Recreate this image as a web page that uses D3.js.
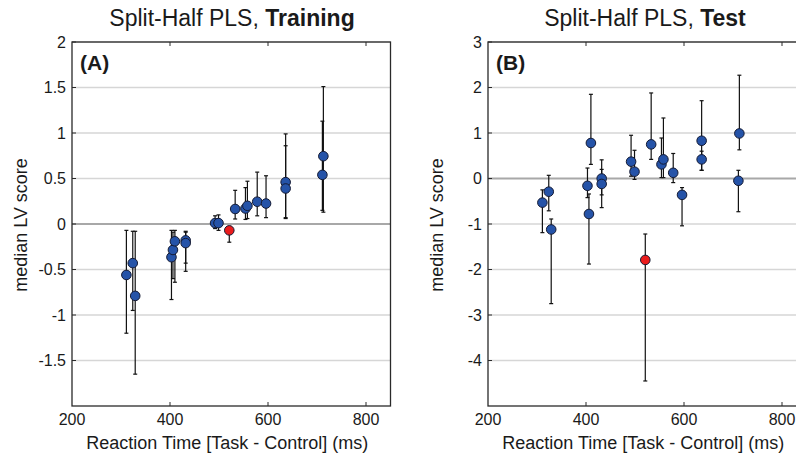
<!DOCTYPE html>
<html>
<head>
<meta charset="utf-8">
<script src="https://cdn.jsdelivr.net/npm/d3@7"></script>
<style>
    body { margin: 0; background: #fff; }
    svg { display: block; font-family: "Liberation Sans", Arial, sans-serif; }
</style>
</head>
<body>
<div id="chart"></div>
<script>
// reaction time difference per subject (ms)
const rt = [311, 324, 329, 403, 406, 410, 432, 432, 492, 499, 521, 533, 554, 558, 578, 596, 636, 636, 711, 713];

// training split: median LV score and interval
const trainMedian = [-0.56, -0.43, -0.79, -0.365, -0.285, -0.19, -0.18, -0.21, 0.01, 0.01, -0.07, 0.165, 0.17, 0.20, 0.245, 0.225, 0.46, 0.39, 0.54, 0.745];
const trainLower = [-1.20, -0.95, -1.65, -0.83, -0.60, -0.64, -0.43, -0.52, -0.05, -0.07, -0.20, 0.055, 0.05, 0.06, 0.09, 0.07, 0.06, 0.07, 0.15, 0.13];
const trainUpper = [-0.07, -0.08, -0.08, -0.07, -0.09, -0.07, -0.08, -0.09, 0.09, 0.10, -0.04, 0.37, 0.40, 0.47, 0.57, 0.53, 0.99, 0.86, 1.13, 1.51];

// test split
const testMedian = [-0.53, -0.29, -1.12, -0.16, -0.78, 0.78, 0.0, -0.12, 0.37, 0.15, -1.79, 0.75, 0.31, 0.42, 0.125, -0.36, 0.83, 0.42, -0.05, 0.99];
const testLower = [-1.19, -0.71, -2.75, -0.42, -1.88, 0.31, -0.36, -0.64, 0.05, -0.02, -4.45, 0.42, 0.02, 0.02, -0.09, -1.04, 0.18, 0.18, -0.73, 0.63];
const testUpper = [-0.25, 0.07, -0.89, 0.23, -0.34, 1.85, 0.41, 0.20, 0.95, 0.62, -1.22, 1.88, 0.89, 1.33, 0.55, -0.20, 1.71, 0.60, 0.18, 2.27];

// the highlighted (red) subject
const outlierIndex = 10;

const xTicks = [200, 400, 600, 800];
const trainTicks = [-1.5, -1, -0.5, 0, 0.5, 1, 1.5, 2];
const testTicks = [-4, -3, -2, -1, 0, 1, 2, 3];

const width = 796;
const height = 458;
const textColor = '#1a1a1a';

const svg = d3
    .select('#chart')
    .append('svg')
    .attr('width', width)
    .attr('height', height);

function drawPanel(opts) {
    const x = d3.scaleLinear().domain([200, 850]).range([opts.left, opts.left + 318.5]);
    const y = d3.scaleLinear().domain(opts.yDomain).range([406, 42]);
    const g = svg.append('g');
    const [x0, x1] = x.range();

    // horizontal grid
    g.selectAll('.grid')
        .data(opts.yTicks)
        .enter()
        .append('line')
        .attr('x1', x0)
        .attr('x2', x1)
        .attr('y1', d => y(d))
        .attr('y2', d => y(d))
        .attr('stroke', d => (d === 0 ? '#a8a8a8' : '#d6d6d6'))
        .attr('stroke-width', d => (d === 0 ? 1.8 : 1.3));

    const data = rt.map((r, i) => ({
        rt: r,
        med: opts.median[i],
        lo: opts.lower[i],
        hi: opts.upper[i],
        red: i === outlierIndex
    }));

    // error bars
    const bars = g.selectAll('.err')
        .data(data)
        .enter()
        .append('g')
        .attr('stroke', '#111')
        .attr('stroke-width', 1.2);
    bars.append('line')
        .attr('x1', d => x(d.rt))
        .attr('x2', d => x(d.rt))
        .attr('y1', d => y(d.lo))
        .attr('y2', d => y(d.hi));
    bars.append('line')
        .attr('x1', d => x(d.rt) - 2)
        .attr('x2', d => x(d.rt) + 2)
        .attr('y1', d => y(d.lo))
        .attr('y2', d => y(d.lo));
    bars.append('line')
        .attr('x1', d => x(d.rt) - 2)
        .attr('x2', d => x(d.rt) + 2)
        .attr('y1', d => y(d.hi))
        .attr('y2', d => y(d.hi));

    // points
    g.selectAll('.pt')
        .data(data)
        .enter()
        .append('circle')
        .attr('cx', d => x(d.rt))
        .attr('cy', d => y(d.med))
        .attr('r', 4.8)
        .attr('fill', d => (d.red ? '#ea1c1c' : '#2553a8'))
        .attr('stroke', '#141a33')
        .attr('stroke-width', 1);

    // frame
    g.append('rect')
        .attr('x', x0)
        .attr('y', 42)
        .attr('width', x1 - x0)
        .attr('height', 364)
        .attr('fill', 'none')
        .attr('stroke', '#2a2a2a')
        .attr('stroke-width', 1.3);

    // inner ticks on top and bottom
    const inner = xTicks.filter(d => d > 200);
    g.selectAll('.tb')
        .data(inner)
        .enter()
        .append('line')
        .attr('x1', d => x(d))
        .attr('x2', d => x(d))
        .attr('y1', 406)
        .attr('y2', 402)
        .attr('stroke', '#2a2a2a');
    g.selectAll('.tt')
        .data(inner)
        .enter()
        .append('line')
        .attr('x1', d => x(d))
        .attr('x2', d => x(d))
        .attr('y1', 42)
        .attr('y2', 46)
        .attr('stroke', '#2a2a2a');
    g.selectAll('.tl')
        .data(opts.yTicks)
        .enter()
        .append('line')
        .attr('x1', x0)
        .attr('x2', x0 + 4)
        .attr('y1', d => y(d))
        .attr('y2', d => y(d))
        .attr('stroke', '#2a2a2a');

    // tick labels
    g.selectAll('.xl')
        .data(xTicks)
        .enter()
        .append('text')
        .attr('x', d => x(d))
        .attr('y', 425)
        .attr('text-anchor', 'middle')
        .attr('font-size', 16)
        .attr('fill', textColor)
        .text(d => d);
    g.selectAll('.yl')
        .data(opts.yTicks)
        .enter()
        .append('text')
        .attr('x', x0 - 6)
        .attr('y', d => y(d))
        .attr('dy', '0.35em')
        .attr('text-anchor', 'end')
        .attr('font-size', 16)
        .attr('fill', textColor)
        .text(d => d);

    // axis titles
    g.append('text')
        .attr('x', (x0 + x1) / 2 - 4)
        .attr('y', 449)
        .attr('text-anchor', 'middle')
        .attr('font-size', 18)
        .attr('fill', textColor)
        .text('Reaction Time [Task - Control] (ms)');
    g.append('text')
        .attr('transform', 'translate(' + (x0 - 45) + ',225) rotate(-90)')
        .attr('text-anchor', 'middle')
        .attr('font-size', 18)
        .attr('fill', textColor)
        .text('median LV score');

    // panel title
    const title = g.append('text')
        .attr('x', opts.titleX)
        .attr('y', 26)
        .attr('text-anchor', 'middle')
        .attr('font-size', 23)
        .attr('fill', textColor);
    title.append('tspan').text('Split-Half PLS, ');
    title.append('tspan').attr('font-weight', 'bold').text(opts.label);

    // panel letter
    g.append('text')
        .attr('x', x0 + 8)
        .attr('y', 70)
        .attr('font-size', 21)
        .attr('font-weight', 'bold')
        .attr('fill', textColor)
        .text(opts.letter);
}

drawPanel({
    left: 72,
    yDomain: [-2, 2],
    yTicks: trainTicks,
    median: trainMedian,
    lower: trainLower,
    upper: trainUpper,
    titleX: 232,
    label: 'Training',
    letter: '(A)'
});

drawPanel({
    left: 488,
    yDomain: [-5, 3],
    yTicks: testTicks,
    median: testMedian,
    lower: testLower,
    upper: testUpper,
    titleX: 645,
    label: 'Test',
    letter: '(B)'
});
</script>
</body>
</html>
